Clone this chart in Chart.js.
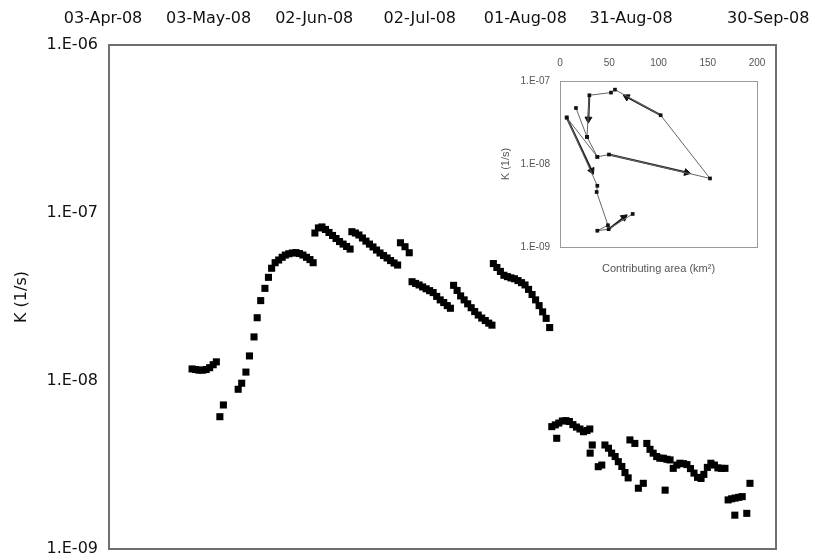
<!DOCTYPE html>
<html>
<head>
<meta charset="utf-8">
<script src="https://cdn.jsdelivr.net/npm/chart.js@4.4.1/dist/chart.umd.min.js"></script>
<style>
  html, body { margin: 0; padding: 0; background: #fff; }
  #wrap { position: relative; width: 819px; height: 557px; }
  #main { position: absolute; left: 0; top: 0; }
  #inset { position: absolute; left: 480px; top: 46px; }
</style>
</head>
<body>
<div id="wrap">
  <canvas id="main" width="819" height="557"></canvas>
  <canvas id="inset" width="296" height="234"></canvas>
</div>
<script>
// main series: day counted from 03-Apr-08, K in 1/s
const sampleDay = [
  25.3, 26.3, 27.3, 28.3, 29.3, 30.3, 31.3, 32.2,
  33.2, 34.2, 38.4, 39.4, 40.6, 41.6, 42.9, 43.8, 44.8, 46.0, 47.0,
  47.9, 48.9, 49.9, 50.9, 51.8, 52.8, 53.8, 54.8, 55.8, 56.8, 57.8, 58.8, 59.7,
  60.2, 61.2, 62.2, 63.2, 64.2, 65.2, 66.2, 67.2, 68.2, 69.2, 70.2,
  70.7, 71.7, 72.7, 73.7, 74.7, 75.7, 76.7, 77.7, 78.7, 79.7, 80.7, 81.7, 82.7, 83.7,
  84.5, 85.8, 87.0,
  87.8, 88.8, 89.8, 90.8, 91.8, 92.8, 93.8, 94.8, 95.8, 96.8, 97.8, 98.7,
  99.6, 100.6, 101.6, 102.6, 103.6, 104.6, 105.6, 106.6, 107.6, 108.6, 109.6, 110.5,
  110.9, 111.9, 112.9, 113.9, 114.9, 115.9, 116.9, 117.9, 118.9, 119.9, 120.9, 121.9, 122.9, 123.9, 124.9, 125.9, 126.9,
  127.5, 128.5, 129.5, 130.5, 131.5, 132.5, 133.5, 134.5, 135.5, 136.5, 137.5, 138.3, 128.9,
  139.0, 138.4, 140.7, 141.7,
  142.6, 143.6, 144.5, 145.5, 146.4, 147.4, 148.3, 149.2,
  149.7, 151.1, 152.1, 153.5,
  154.5, 155.4, 156.3, 157.3, 158.2, 159.2, 160.2, 161.1, 159.7,
  162.0, 163.0, 163.9, 164.9, 165.9, 166.9, 167.9, 168.9, 169.9, 170.7, 171.7, 172.7, 173.7, 174.7, 175.7, 176.7,
  177.6, 178.6, 179.6, 180.6, 181.6, 183.8, 179.5, 182.9
];
const sampleK = [
  1.18e-8, 1.17e-8, 1.16e-8, 1.16e-8, 1.17e-8, 1.20e-8, 1.25e-8, 1.30e-8,
  6.13e-9, 7.2e-9, 8.93e-9, 9.7e-9, 1.13e-8, 1.41e-8, 1.83e-8, 2.38e-8, 3.01e-8, 3.56e-8, 4.14e-8,
  4.69e-8, 5.06e-8, 5.25e-8, 5.45e-8, 5.62e-8, 5.72e-8, 5.78e-8, 5.81e-8, 5.74e-8, 5.62e-8, 5.45e-8, 5.28e-8, 5.06e-8,
  7.6e-8, 8.15e-8, 8.26e-8, 7.98e-8, 7.66e-8, 7.35e-8, 7.05e-8, 6.76e-8, 6.53e-8, 6.32e-8, 6.1e-8,
  7.74e-8, 7.6e-8, 7.4e-8, 7.1e-8, 6.8e-8, 6.53e-8, 6.28e-8, 6.02e-8, 5.78e-8, 5.58e-8, 5.4e-8, 5.21e-8, 5.04e-8, 4.9e-8,
  6.65e-8, 6.3e-8, 5.8e-8,
  3.9e-8, 3.81e-8, 3.73e-8, 3.63e-8, 3.54e-8, 3.45e-8, 3.36e-8, 3.19e-8, 3.04e-8, 2.93e-8, 2.81e-8, 2.71e-8,
  3.71e-8, 3.46e-8, 3.21e-8, 3.04e-8, 2.88e-8, 2.73e-8, 2.59e-8, 2.47e-8, 2.37e-8, 2.29e-8, 2.21e-8, 2.15e-8,
  5.0e-8, 4.74e-8, 4.49e-8, 4.26e-8, 4.18e-8, 4.11e-8, 4.06e-8, 3.96e-8, 3.85e-8, 3.73e-8, 3.51e-8, 3.27e-8, 3.04e-8, 2.81e-8, 2.58e-8, 2.36e-8, 2.08e-8,
  5.35e-9, 5.48e-9, 5.62e-9, 5.78e-9, 5.81e-9, 5.74e-9, 5.5e-9, 5.32e-9, 5.18e-9, 4.99e-9, 5.07e-9, 5.18e-9, 4.56e-9,
  4.16e-9, 3.72e-9, 3.09e-9, 3.16e-9,
  4.16e-9, 3.98e-9, 3.72e-9, 3.55e-9, 3.31e-9, 3.1e-9, 2.85e-9, 2.65e-9,
  4.46e-9, 4.25e-9, 2.3e-9, 2.46e-9,
  4.25e-9, 3.92e-9, 3.72e-9, 3.55e-9, 3.47e-9, 3.47e-9, 3.42e-9, 3.39e-9, 2.24e-9,
  3.02e-9, 3.16e-9, 3.24e-9, 3.22e-9, 3.18e-9, 3.01e-9, 2.83e-9, 2.67e-9, 2.63e-9, 2.78e-9, 3.06e-9, 3.24e-9, 3.16e-9, 3.04e-9, 3.02e-9, 3.02e-9,
  1.96e-9, 1.99e-9, 2.01e-9, 2.03e-9, 2.05e-9, 2.46e-9, 1.59e-9, 1.63e-9
];

// top date axis (last label sits off the 30-day grid in the original)
const dateLabels = ['03-Apr-08', '03-May-08', '02-Jun-08', '02-Jul-08', '01-Aug-08', '31-Aug-08', '30-Sep-08'];
const dateTickDays = [0, 30, 60, 90, 120, 150, 189];
const kTicks = [1e-9, 1e-8, 1e-7, 1e-6];
const kTickLabels = ['1.E-09', '1.E-08', '1.E-07', '1.E-06'];

// inset: K against contributing area (km2), thin path (null = break)
const pathArea = [16.2, 27.4, 37.9, 49.7, 152.3, 102.2, 55.8, 51.8, 29.8, 27.4, null,
                  6.8, 37.9, null,
                  6.8, 37.9, 37.2, 48.7, 37.9, 49.4, 73.8];
const pathK = [4.73e-8, 2.12e-8, 1.22e-8, 1.3e-8, 6.7e-9, 3.87e-8, 7.87e-8, 7.25e-8, 6.73e-8, 2.12e-8, null,
               3.63e-8, 1.22e-8, null,
               3.63e-8, 5.47e-9, 4.6e-9, 1.83e-9, 1.57e-9, 1.64e-9, 2.5e-9];
// arrows: tail point -> arrow head
const arrowTailArea = [49.7, 102.2, 29.8, 6.8, 49.4];
const arrowTailK = [1.3e-8, 3.87e-8, 6.73e-8, 3.63e-8, 1.64e-9];
const arrowHeadArea = [128.6, 67.7, 28.8, 32.2, 65.0];
const arrowHeadK = [7.9e-9, 6.43e-8, 3.47e-8, 8.3e-9, 2.28e-9];
const insetKTicks = [1e-9, 1e-8, 1e-7];
const insetKLabels = ['1.E-09', '1.E-08', '1.E-07'];

const frame = '#6f6f6f';
const mainFont = { family: 'DejaVu Sans', size: 16 };

// fix an axis' size and drop the label overhang padding Chart.js adds
function fixSize(w, h) {
  return s => {
    if (w !== null) s.width = w;
    if (h !== null) s.height = h;
    s.paddingLeft = s.paddingRight = s.paddingTop = s.paddingBottom = 0;
  };
}

function borderOnly(pos, fit, color, width, extra) {
  return Object.assign({
    position: pos,
    grid: { display: false, drawTicks: false },
    ticks: { display: false },
    border: { color: color, width: width },
    afterFit: fit
  }, extra || {});
}

new Chart(document.getElementById('main'), {
  type: 'scatter',
  data: {
    datasets: [{
      data: sampleDay.map((d, i) => ({ x: d, y: sampleK[i] })),
      pointStyle: 'rect',
      pointRadius: 5,
      pointHoverRadius: 5,
      pointBackgroundColor: '#000',
      pointBorderWidth: 0
    }]
  },
  options: {
    responsive: false,
    animation: false,
    events: [],
    layout: { padding: { left: 0, right: 43, top: 0, bottom: 8 } },
    plugins: { legend: { display: false }, tooltip: { enabled: false } },
    scales: {
      x: {
        type: 'linear',
        position: 'top',
        min: 1.7,
        max: 191.2,
        grid: { display: false, drawTicks: false },
        border: { color: frame, width: 2 },
        ticks: {
          autoSkip: false, maxRotation: 0, padding: 17, color: '#111', font: mainFont,
          callback: (v, i) => dateLabels[i]
        },
        afterBuildTicks: s => { s.ticks = dateTickDays.map(v => ({ value: v })); },
        afterFit: fixSize(null, 45)
      },
      xb: borderOnly('bottom', fixSize(null, 0), frame, 2),
      y: {
        type: 'logarithmic',
        min: 1e-9,
        max: 1e-6,
        grid: { display: false, drawTicks: false },
        border: { color: frame, width: 2 },
        ticks: { padding: 11, color: '#111', font: mainFont, callback: (v, i) => kTickLabels[i] },
        afterBuildTicks: s => { s.ticks = kTicks.map(v => ({ value: v })); },
        afterFit: fixSize(109, null),
        title: { display: true, text: 'K (1/s)', color: '#111', font: mainFont, padding: { top: 12 } }
      },
      yr: borderOnly('right', fixSize(0, null), frame, 2)
    }
  }
});

const insetGrey = '#9a9a9a';
const insetText = '#555';

const arrowData = [];
arrowTailArea.forEach((a, i) => {
  if (i > 0) arrowData.push({ x: null, y: null });
  arrowData.push({ x: a, y: arrowTailK[i] });
  arrowData.push({ x: arrowHeadArea[i], y: arrowHeadK[i] });
});

new Chart(document.getElementById('inset'), {
  type: 'scatter',
  data: {
    datasets: [{
      data: pathArea.map((a, i) => ({ x: a, y: pathK[i] })),
      showLine: true,
      borderColor: '#666',
      borderWidth: 1,
      pointStyle: 'rect',
      pointRadius: 2.6,
      pointBackgroundColor: '#111',
      pointBorderWidth: 0
    }, {
      data: arrowData,
      showLine: true,
      borderColor: '#222',
      borderWidth: 2,
      pointStyle: 'triangle',
      pointBackgroundColor: '#111',
      pointBorderColor: '#111',
      pointBorderWidth: 1,
      pointRadius: ctx => (ctx.dataIndex % 3 === 1 ? 4 : 0),
      pointRotation: ctx => {
        const i = ctx.dataIndex;
        if (i % 3 !== 1) return 0;
        const sx = ctx.chart.scales.x, sy = ctx.chart.scales.y;
        const a = arrowData[i - 1], b = arrowData[i];
        const dx = sx.getPixelForValue(b.x) - sx.getPixelForValue(a.x);
        const dy = sy.getPixelForValue(b.y) - sy.getPixelForValue(a.y);
        return Math.atan2(dx, -dy) * 180 / Math.PI;
      }
    }]
  },
  options: {
    responsive: false,
    animation: false,
    events: [],
    layout: { padding: { left: 0, right: 19, top: 0, bottom: 0 } },
    plugins: { legend: { display: false }, tooltip: { enabled: false } },
    scales: {
      x: {
        type: 'linear',
        position: 'top',
        min: 0,
        max: 200,
        grid: { display: false, drawTicks: false },
        border: { color: insetGrey, width: 1 },
        ticks: { stepSize: 50, padding: 12, color: insetText, font: { family: 'Liberation Sans', size: 10 } },
        afterFit: fixSize(null, 35)
      },
      xb: borderOnly('bottom', fixSize(null, 33), insetGrey, 1, {
        title: {
          display: true, text: 'Contributing area (km\u00b2)', color: insetText,
          font: { family: 'Liberation Sans', size: 11 }, padding: { bottom: 4 }
        }
      }),
      y: {
        type: 'logarithmic',
        min: 1e-9,
        max: 1e-7,
        grid: { display: false, drawTicks: false },
        border: { color: insetGrey, width: 1 },
        ticks: {
          padding: 10, color: insetText, font: { family: 'Liberation Sans', size: 10 },
          callback: (v, i) => insetKLabels[i]
        },
        afterBuildTicks: s => { s.ticks = insetKTicks.map(v => ({ value: v })); },
        afterFit: fixSize(80, null),
        title: {
          display: true, text: 'K (1/s)', color: insetText,
          font: { family: 'Liberation Sans', size: 11 }, padding: { top: 19 }
        }
      },
      yr: borderOnly('right', fixSize(0, null), insetGrey, 1)
    }
  }
});
</script>
</body>
</html>
